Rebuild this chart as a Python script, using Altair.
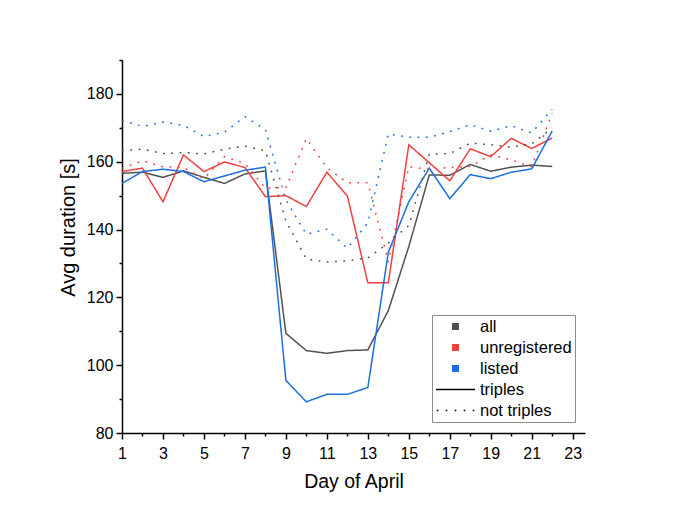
import altair as alt
import pandas as pd

days = list(range(1, 23))

all_triples = [156.6, 156.9, 155.4, 157.3, 155.4, 153.6, 156.4, 157.3, 109.4, 104.3, 103.5,
               104.3, 104.5, 116.1, 135.0, 156.1, 156.0, 159.2, 157.2, 158.4, 159.0, 158.6]
unreg_triples = [157.1, 158.1, 148.2, 162.0, 157.1, 159.9, 158.3, 149.7, 150.0, 146.8, 156.9,
                 149.9, 124.3, 124.3, 165.0, 159.7, 154.4, 163.8, 161.5, 166.9, 163.9, 167.0]
listed_triples = [153.6, 157.1, 157.8, 157.1, 154.1, 155.8, 157.5, 158.4, 95.5, 89.2, 91.4,
                  91.4, 93.4, 133.3, 148.2, 158.1, 149.1, 156.2, 155.0, 156.9, 157.9, 169.1]

all_not = [163.3, 163.7, 162.4, 162.7, 162.3, 163.7, 164.6, 163.2, 142.5, 131.3, 130.4,
           130.8, 131.6, 136.0, 141.2, 162.2, 162.4, 165.5, 165.0, 164.3, 165.3, 169.9]
unreg_not = [158.0, 160.3, 158.5, 158.3, 155.0, 161.5, 159.5, 152.2, 152.4, 166.8, 158.2,
             153.8, 153.8, 130.5, 158.5, 157.8, 158.3, 158.6, 162.0, 160.5, 158.6, 174.3]
listed_not = [172.2, 170.4, 171.7, 170.7, 167.4, 168.7, 173.3, 169.5, 148.7, 138.6, 140.1,
              134.5, 142.0, 168.2, 167.2, 167.2, 168.9, 170.9, 169.0, 170.6, 168.5, 175.5]

groups = ["all", "unregistered", "listed"]
types = ["triples", "not triples"]
legend_items = groups + types
group_colors = ["#515151", "#F14040", "#1A6FDF"]
legend_fill = group_colors + ["#000000", "#000000"]
legend_stroke = ["transparent", "transparent", "transparent", "#000000", "transparent"]

x_ticks = list(range(1, 24))
y_ticks = list(range(80, 191, 10))

series = {
    ("all", "triples"): all_triples,
    ("unregistered", "triples"): unreg_triples,
    ("listed", "triples"): listed_triples,
    ("all", "not triples"): all_not,
    ("unregistered", "not triples"): unreg_not,
    ("listed", "not triples"): listed_not,
}
rows = []
for (g, t), vals in series.items():
    for d, v in zip(days, vals):
        rows.append({"day": d, "value": v, "group": g, "type": t})
df = pd.DataFrame(rows)
legend_df = pd.DataFrame({"key": legend_items})

FONT = "Liberation Sans"
SQUARE = "M-0.179,-0.179H0.179V0.179H-0.179Z"
dot_centers = [-0.923, -0.4615, 0.0, 0.4615, 0.923]
DOTS = " ".join(f"M{c - 0.041:.3f},-0.041h0.082v0.082h-0.082Z" for c in dot_centers)
legend_shapes = [SQUARE, SQUARE, SQUARE, "stroke", DOTS]


def make_legend():
    return alt.Legend(
        title=None,
        orient="none",
        legendX=310,
        legendY=255,
        symbolSize=1521,
        symbolStrokeWidth=1.5,
        symbolOpacity=1,
        clipHeight=17,
        labelFont=FONT,
        labelFontSize=16.5,
        labelColor="#000000",
        labelOffset=4,
        padding=3,
        rowPadding=4,
        strokeColor="#8c8c8c",
        fillColor="#ffffff",
    )


x_enc = alt.X(
    "day:Q",
    scale=alt.Scale(domain=[1, 23.6], nice=False, zero=False),
    axis=alt.Axis(
        values=x_ticks,
        labelExpr="datum.value % 2 == 1 ? datum.label : ''",
        tickSize={"condition": {"test": "datum.value % 2 == 1", "value": 6}, "value": 3},
        labelPadding=6,
        labelFlush=False,
        labelOverlap=False,
        title="Day of April",
        titleFontSize=19.5,
        titleY=39,
        grid=False,
    ),
)
y_enc = alt.Y(
    "value:Q",
    scale=alt.Scale(domain=[80, 190], nice=False, zero=False),
    axis=alt.Axis(
        values=y_ticks,
        labelExpr="datum.value % 20 == 0 ? datum.label : ''",
        tickSize={"condition": {"test": "datum.value % 20 == 0", "value": 6}, "value": 3},
        labelPadding=3,
        labelFlush=False,
        labelOverlap=False,
        title="Avg duration [s]",
        titleFontSize=20,
        titleX=-44,
        titleY=167,
        grid=False,
    ),
)

lines = (
    alt.Chart(df)
    .mark_line(strokeWidth=1.5)
    .encode(
        x=x_enc,
        y=y_enc,
        color=alt.Color("group:N", scale=alt.Scale(domain=groups, range=group_colors), legend=None),
        strokeDash=alt.StrokeDash(
            "type:N",
            scale=alt.Scale(domain=types, range=[[1, 0], [1.8, 6.5]]),
            legend=None,
        ),
    )
)

legend_layer = (
    alt.Chart(legend_df)
    .transform_filter("false")
    .mark_point(filled=True, opacity=1, strokeWidth=1.5)
    .encode(
        fill=alt.Fill("key:N", scale=alt.Scale(domain=legend_items, range=legend_fill), legend=make_legend()),
        stroke=alt.Stroke("key:N", scale=alt.Scale(domain=legend_items, range=legend_stroke), legend=make_legend()),
        shape=alt.Shape("key:N", scale=alt.Scale(domain=legend_items, range=legend_shapes), legend=make_legend()),
    )
)

chart = (
    alt.layer(lines, legend_layer)
    .properties(
        width=463,
        height=373,
        autosize=alt.AutoSizeParams(type="none"),
        padding={"left": 114, "top": 52, "right": 60, "bottom": 80},
    )
    .configure_view(strokeWidth=0)
    .configure_axis(
        labelFont=FONT,
        titleFont=FONT,
        labelFontSize=16,
        labelColor="#000000",
        titleColor="#000000",
        titleFontWeight="normal",
        domainColor="#000000",
        domainWidth=1.5,
        tickColor="#000000",
        tickWidth=1.5,
    )
)

chart.save("out.html", embed_options={"renderer": "svg", "actions": False})
